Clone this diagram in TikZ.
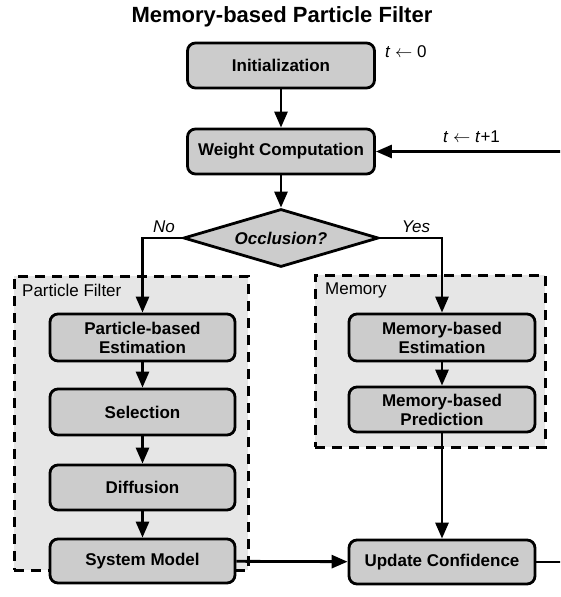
\documentclass[tikz,border=0pt]{standalone}
\usepackage{fontspec}
\setmainfont{Liberation Sans}
\usetikzlibrary{arrows.meta,shapes.geometric}
\definecolor{boxgray}{HTML}{CCCCCC}
\definecolor{grpgray}{HTML}{E6E6E6}
\begin{document}
\begin{tikzpicture}[x=1pt,y=-1pt,
  txt/.style={font=\fontsize{17}{19}\selectfont, inner sep=0pt},
  box/.style={draw, line width=2.8pt, rounded corners=8pt, fill=boxgray,
    minimum width=185pt, minimum height=45pt, inner sep=0pt, align=center,
    font=\fontsize{17}{19}\selectfont\bfseries},
  group/.style={draw, line width=3pt, dash pattern=on 10pt off 7pt, fill=grpgray, inner sep=0pt},
  conn/.style={line width=2.8pt, -{Triangle[length=16pt,width=13pt]}},
  lbl/.style={font=\fontsize{17}{19}\selectfont\itshape, inner sep=0pt}]
\useasboundingbox (0,0) rectangle (560,597);
\clip (0,0) rectangle (560,597);
\fill[white] (0,0) rectangle (560,597);

\node[font=\fontsize{22}{24}\selectfont\bfseries, inner sep=0pt] (title) at (282,17) {Memory-based Particle Filter};

% groups
\node[group, minimum width=234pt, minimum height=294pt] (pf) at (131,423) {};
\node[group, minimum width=230pt, minimum height=172pt] (mem) at (430,361) {};
\node[txt, anchor=west] (pflbl) at (22,290) {Particle Filter};
\node[txt, anchor=west] (memlbl) at (325,290) {Memory};

% boxes
\node[box, minimum width=187pt] (init) at (281,65.5) {Initialization};
\node[box, minimum width=187pt] (wc) at (281,151.5) {Weight Computation};
\node[draw, line width=2.8pt, fill=boxgray, shape=diamond, aspect=3.36, minimum width=195pt, minimum height=58pt,
  inner sep=0pt, font=\fontsize{17}{19}\selectfont\bfseries\itshape] (occ) at (281,238) {Occlusion?};

\node[box, minimum height=47pt] (pbe) at (142.5,337.5) {Particle-based\\Estimation};
\node[box, minimum height=46pt] (sel) at (142.5,412) {Selection};
\node[box] (dif) at (142.5,487.5) {Diffusion};
\node[box, minimum height=44pt] (sys) at (142.5,561) {System Model};

\node[box, minimum width=186pt, minimum height=47pt] (mbe) at (442,337.5) {Memory-based\\Estimation};
\node[box, minimum width=186pt] (mbp) at (442,409.5) {Memory-based\\Prediction};
\node[box, minimum width=186pt, minimum height=44pt] (uc) at (442,562) {Update Confidence};

% labels
\node[txt, anchor=west] (t0) at (385,52) {\textit{t} $\leftarrow$ 0};
\node[txt, anchor=west] (t1) at (443,137) {\textit{t} $\leftarrow$ \textit{t}+1};
\node[lbl] (no) at (164,227) {No};
\node[lbl] (yes) at (416,227) {Yes};

\coordinate (rt) at (563,151.5);

% connectors
\draw[conn] (init) -- (wc);
\draw[conn] (wc) -- (occ);
\draw[conn] (occ.west) -| (pbe.north);
\draw[conn] (occ.east) -| (mbe.north);
\draw[conn] (pbe) -- (sel);
\draw[conn] (sel) -- (dif);
\draw[conn] (dif) -- (sys);
\draw[conn] (mbe) -- (mbp);
\draw[conn] (mbp) -- (uc);
\draw[conn] (sys) -- (uc);
\draw[conn] (uc.east) -| (rt) -- (wc.east);
\end{tikzpicture}
\end{document}
